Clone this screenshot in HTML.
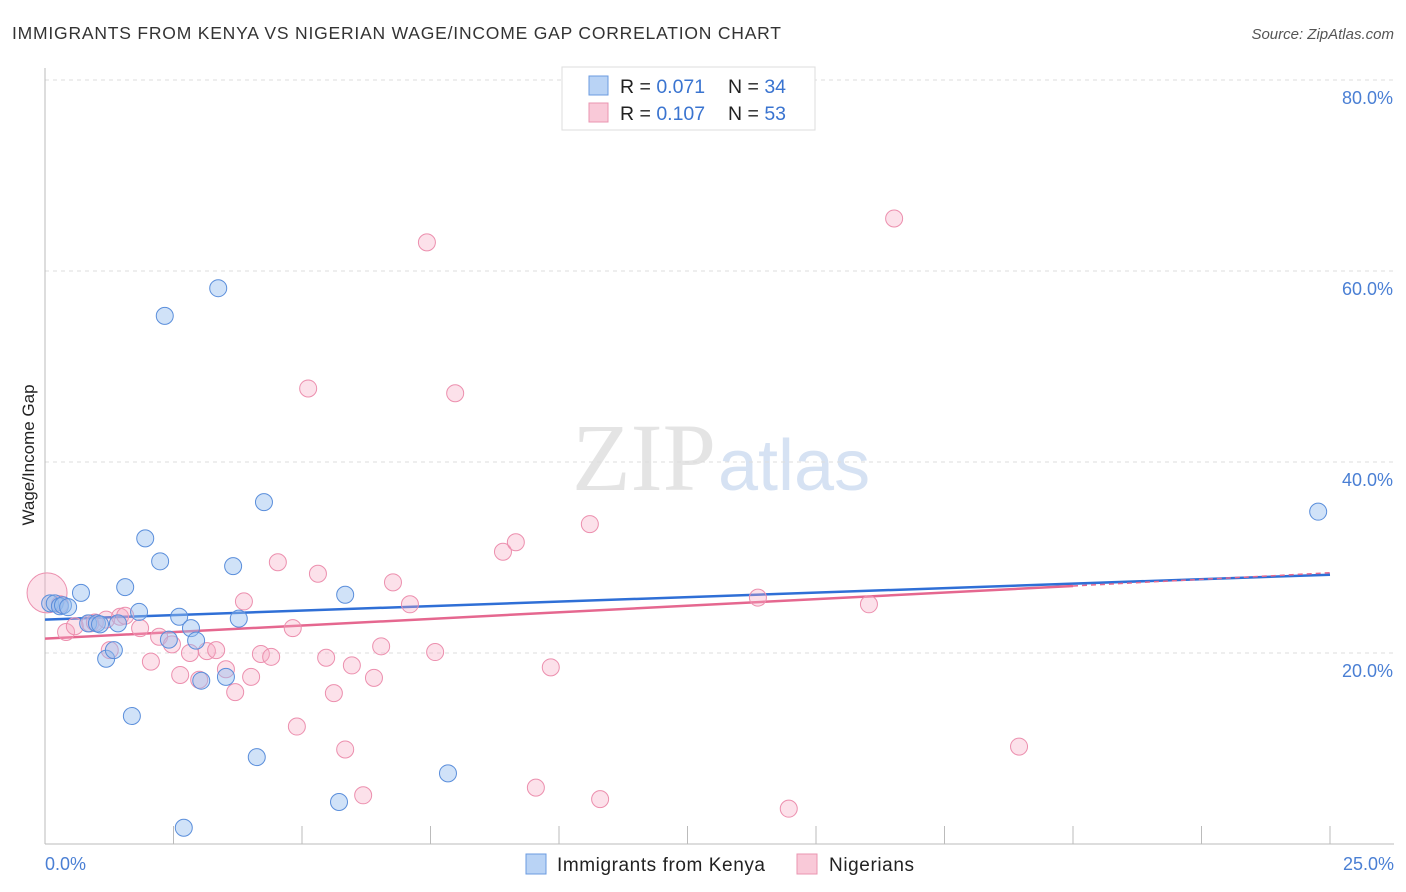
<!DOCTYPE html>
<html><head><meta charset="utf-8"><style>
body{margin:0;background:#fff;font-family:"Liberation Sans",sans-serif}
svg{display:block}
</style></head><body>
<svg id="chart" width="1406" height="892" xmlns="http://www.w3.org/2000/svg">
<text x="12" y="39" font-size="17.5" fill="#333" textLength="769">IMMIGRANTS FROM KENYA VS NIGERIAN WAGE/INCOME GAP CORRELATION CHART</text>
<text x="1394" y="39" font-size="15" fill="#555" font-style="italic" text-anchor="end">Source: ZipAtlas.com</text>
<text x="716" y="490" font-size="96" fill="#e4e4e4" text-anchor="end" font-family="Liberation Serif,serif">ZIP</text>
<text x="718" y="490" font-size="72" fill="#d6e2f3">atlas</text>
<g id="grid"></g><g id="axes"></g><g id="trends"></g><g id="points"></g>
<text transform="translate(34,455) rotate(-90)" font-size="17" fill="#222" text-anchor="middle">Wage/Income Gap</text>
<text x="45" y="870" font-size="18" fill="#4a7fd4">0.0%</text>
<text x="1394" y="870" font-size="18" fill="#4a7fd4" text-anchor="end">25.0%</text>
<g>
<rect x="562" y="67" width="253" height="63" fill="#fff" stroke="#ddd"/>
<rect x="589" y="76" width="19" height="19" fill="#b9d3f5" stroke="#6b9be0"/>
<rect x="589" y="103" width="19" height="19" fill="#f9c9d8" stroke="#ea95b0"/>
<text x="620" y="93" font-size="19.5" fill="#222">R = <tspan fill="#3a74d0">0.071</tspan></text>
<text x="728" y="93" font-size="19.5" fill="#222">N = <tspan fill="#3a74d0">34</tspan></text>
<text x="620" y="120" font-size="19.5" fill="#222">R = <tspan fill="#3a74d0">0.107</tspan></text>
<text x="728" y="120" font-size="19.5" fill="#222">N = <tspan fill="#3a74d0">53</tspan></text>
</g>
<g>
<rect x="526" y="854" width="20" height="20" fill="#b9d3f5" stroke="#6b9be0"/>
<text x="557" y="871" font-size="19" fill="#222" textLength="208">Immigrants from Kenya</text>
<rect x="797" y="854" width="20" height="20" fill="#f9c9d8" stroke="#ea95b0"/>
<text x="829" y="871" font-size="19" fill="#222" textLength="85">Nigerians</text>
</g>
</svg>
<script>
const yTicks=[20,40,60,80];
const yTickLabels=["20.0%","40.0%","60.0%","80.0%"];
const xTicks=[0,2.5,5,7.5,10,12.5,15,17.5,20,22.5,25];
const kenyaX=[0.10,0.19,0.29,0.35,0.45,0.70,0.84,1.01,1.07,1.19,1.34,1.42,1.56,1.69,1.83,1.95,2.24,2.33,2.41,2.61,2.70,2.84,2.94,3.04,3.37,3.52,3.66,3.77,4.12,4.26,5.72,5.84,7.84,24.77];
const kenyaY=[25.2,25.2,24.9,25.0,24.8,26.3,23.1,23.1,23.0,19.4,20.3,23.1,26.9,13.4,24.3,32.0,29.6,55.3,21.4,23.8,1.7,22.6,21.3,17.1,58.2,17.5,29.1,23.6,9.1,35.8,4.4,26.1,7.4,34.8];
const nigX=[0.04,0.29,0.41,0.58,0.88,0.97,1.19,1.26,1.46,1.56,1.85,2.06,2.22,2.47,2.63,2.82,3.00,3.15,3.33,3.52,3.70,3.87,4.01,4.20,4.40,4.53,4.82,4.90,5.12,5.31,5.47,5.62,5.84,5.97,6.19,6.40,6.54,6.77,7.10,7.43,7.59,7.98,8.91,9.16,9.55,9.84,10.60,10.80,13.87,14.47,16.03,16.52,18.95];
const nigY=[26.3,25.1,22.2,22.8,23.1,23.2,23.5,20.3,23.8,23.9,22.6,19.1,21.7,20.9,17.7,20.0,17.2,20.2,20.3,18.3,15.9,25.4,17.5,19.9,19.6,29.5,22.6,12.3,47.7,28.3,19.5,15.8,9.9,18.7,5.1,17.4,20.7,27.4,25.1,63.0,20.1,47.2,30.6,31.6,5.9,18.5,33.5,4.7,25.8,3.7,25.1,65.5,10.2];
const kenyaTrend=[23.5,28.2];
const nigTrend=[21.5,28.4];
const NS='http://www.w3.org/2000/svg';
const X0=45,X1=1330,Y0=844,PXPER=9.55;
function sx(v){return X0+v/25*(X1-X0);}
function sy(v){return Y0-v*PXPER;}
function mk(tag,attrs,parent){const e=document.createElementNS(NS,tag);for(const k in attrs)e.setAttribute(k,attrs[k]);document.getElementById(parent).appendChild(e);return e;}
yTicks.forEach((t,i)=>{
 const l=mk('line',{x1:X0,x2:1394,y1:sy(t),y2:sy(t),stroke:'#ddd','stroke-dasharray':'4,4'},'grid');
 
 
 const tx=mk('text',{x:1393,y:sy(t)+24,'font-size':18,fill:'#4a7fd4','text-anchor':'end'},'grid');
 tx.textContent=yTickLabels[i];
 
 
});
mk('line',{x1:X0,x2:X0,y1:68,y2:Y0,stroke:'#bbb'},'axes');
mk('line',{x1:X0,x2:1394,y1:Y0,y2:Y0,stroke:'#bbb'},'axes');
xTicks.forEach(t=>{if(t>0){const l=mk('line',{x1:sx(t),x2:sx(t),y1:826,y2:Y0,stroke:'#bbb'},'axes');
 
 }});
const tb=mk('line',{x1:sx(0),y1:sy(kenyaTrend[0]),x2:sx(25),y2:sy(kenyaTrend[1]),stroke:'#2f6fd6','stroke-width':2.5},'trends');


const slope=(nigTrend[1]-nigTrend[0])/25;
const tp=mk('line',{x1:sx(0),y1:sy(nigTrend[0]),x2:sx(20),y2:sy(nigTrend[0]+slope*20),stroke:'#e5678f','stroke-width':2.5},'trends');


const tpd=mk('line',{x1:sx(20),y1:sy(nigTrend[0]+slope*20),x2:sx(25),y2:sy(nigTrend[1]),stroke:'#e5678f','stroke-width':1.5,'stroke-dasharray':'5,4'},'trends');


nigX.forEach((x,i)=>{
 const c=mk('circle',{cx:sx(x),cy:sy(nigY[i]),r:i===0?20:8.5,fill:'rgba(246,170,195,0.35)',stroke:'#ec8fae','stroke-width':1},'points');
 
 
});
kenyaX.forEach((x,i)=>{
 const c=mk('circle',{cx:sx(x),cy:sy(kenyaY[i]),r:8.5,fill:'rgba(150,190,240,0.45)',stroke:'#5a8edb','stroke-width':1},'points');
 
 
});
</script>
</body></html>
